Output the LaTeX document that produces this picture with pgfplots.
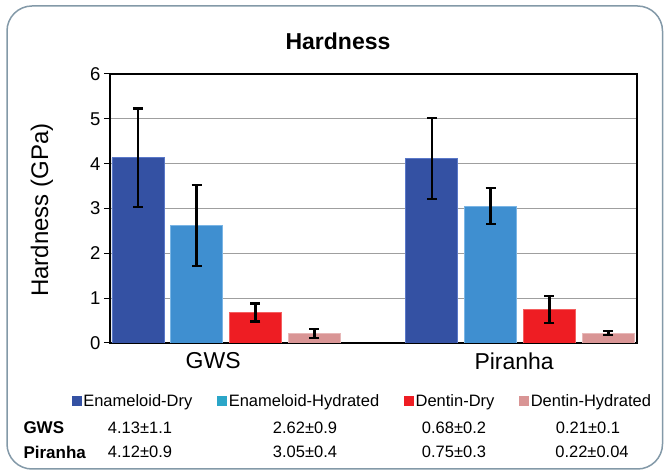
\documentclass[border=0pt]{standalone}
\usepackage{fontspec}
\setmainfont{Liberation Sans}
\usepackage{pgfplots}
\pgfplotsset{compat=1.18}
\definecolor{ed}{HTML}{3451A3}
\definecolor{edb}{HTML}{5A78C8}
\definecolor{eh}{HTML}{3F8FD0}
\definecolor{ehb}{HTML}{7AB5E5}
\definecolor{dd}{HTML}{EE1D23}
\definecolor{ddb}{HTML}{F46060}
\definecolor{dh}{HTML}{D99595}
\definecolor{dhb}{HTML}{E8B8B8}
\definecolor{ehl}{HTML}{2BA6C8}
\definecolor{framec}{HTML}{8399A8}
\pgfplotsset{sq/.style={legend image code/.code={\fill[#1] (0bp,-4.5bp) rectangle (9bp,4.5bp);}}}
\begin{document}
\begin{tikzpicture}
\useasboundingbox (0,0) rectangle (664bp,471bp);
\draw[framec, line width=1.5bp, rounded corners=25bp] (7bp,2bp) rectangle (662.5bp,465bp);
\begin{axis}[
 at={(110bp,128bp)}, anchor=south west,
 scale only axis, width=527bp, height=269bp,
 xmin=-0.395, xmax=1.398, ymin=0, ymax=6,
 ytick={0,1,2,3,4,5,6},
 xtick={-0.044,0.98}, xticklabels={GWS,Piranha},
 x tick style={draw=none},
 ytick pos=left, tick align=outside, major tick length=6bp,
 ymajorgrids, grid style={draw=gray!75, line width=1.2bp},
 axis line style={black, line width=1.2bp},
 y tick style={black, line width=1bp},
 ybar, bar width=0.177, bar shift=0pt,
 tick label style={font=\fontsize{18.5bp}{20bp}\selectfont},
 xticklabel style={font=\fontsize{23bp}{26bp}\selectfont},
 /pgf/number format/assume math mode=true,
 ylabel={Hardness (GPa)},
 ylabel style={at={(axis description cs:-0.129,0.494)}, anchor=center, font=\fontsize{24bp}{27bp}\selectfont},
 legend columns=4,
 legend style={at={(axis description cs:0.479,-0.215)}, anchor=center, draw=none, fill=none,
   font=\fontsize{16.5bp}{19bp}\selectfont,
   /tikz/every even column/.append style={column sep=23bp}},
 legend cell align=left,
 error bars/y dir=both, error bars/y explicit,
 error bars/error bar style={black, line width=2.6bp},
 error bars/error mark options={black, rotate=90, mark size=5bp, line width=2.2bp},
]
\addlegendimage{sq=ed}
\addlegendimage{sq=ehl}
\addlegendimage{sq=dd}
\addlegendimage{sq=dh}
\addplot[fill=ed, draw=edb, line width=0.8bp, forget plot] coordinates {(-0.3,4.13) +- (0,1.1) (0.7,4.12) +- (0,0.9)};
\addplot[fill=eh, draw=ehb, line width=0.8bp, forget plot] coordinates {(-0.1,2.62) +- (0,0.9) (0.9,3.05) +- (0,0.4)};
\addplot[fill=dd, draw=ddb, line width=0.8bp, forget plot] coordinates {(0.1,0.68) +- (0,0.2) (1.1,0.75) +- (0,0.3)};
\addplot[fill=dh, draw=dhb, line width=0.8bp, forget plot] coordinates {(0.3,0.21) +- (0,0.1) (1.3,0.22) +- (0,0.04)};
\legend{Enameloid-Dry, Enameloid-Hydrated, Dentin-Dry, Dentin-Hydrated}
\end{axis}
\node[font=\fontsize{23bp}{26bp}\selectfont\bfseries] at (338bp,430bp) {Hardness};
\begin{scope}[every node/.style={font=\fontsize{16.5bp}{19bp}\selectfont}]
\node[anchor=west, font=\fontsize{17bp}{20bp}\selectfont\bfseries] at (20bp,43bp) {GWS};
\node at (140bp,43bp) {4.13±1.1};
\node at (305bp,43bp) {2.62±0.9};
\node at (454bp,43bp) {0.68±0.2};
\node at (588bp,43bp) {0.21±0.1};
\node[anchor=west, font=\fontsize{17bp}{20bp}\selectfont\bfseries] at (20bp,19bp) {Piranha};
\node at (140bp,19bp) {4.12±0.9};
\node at (305bp,19bp) {3.05±0.4};
\node at (454bp,19bp) {0.75±0.3};
\node at (592bp,19bp) {0.22±0.04};
\end{scope}
\end{tikzpicture}
\end{document}
